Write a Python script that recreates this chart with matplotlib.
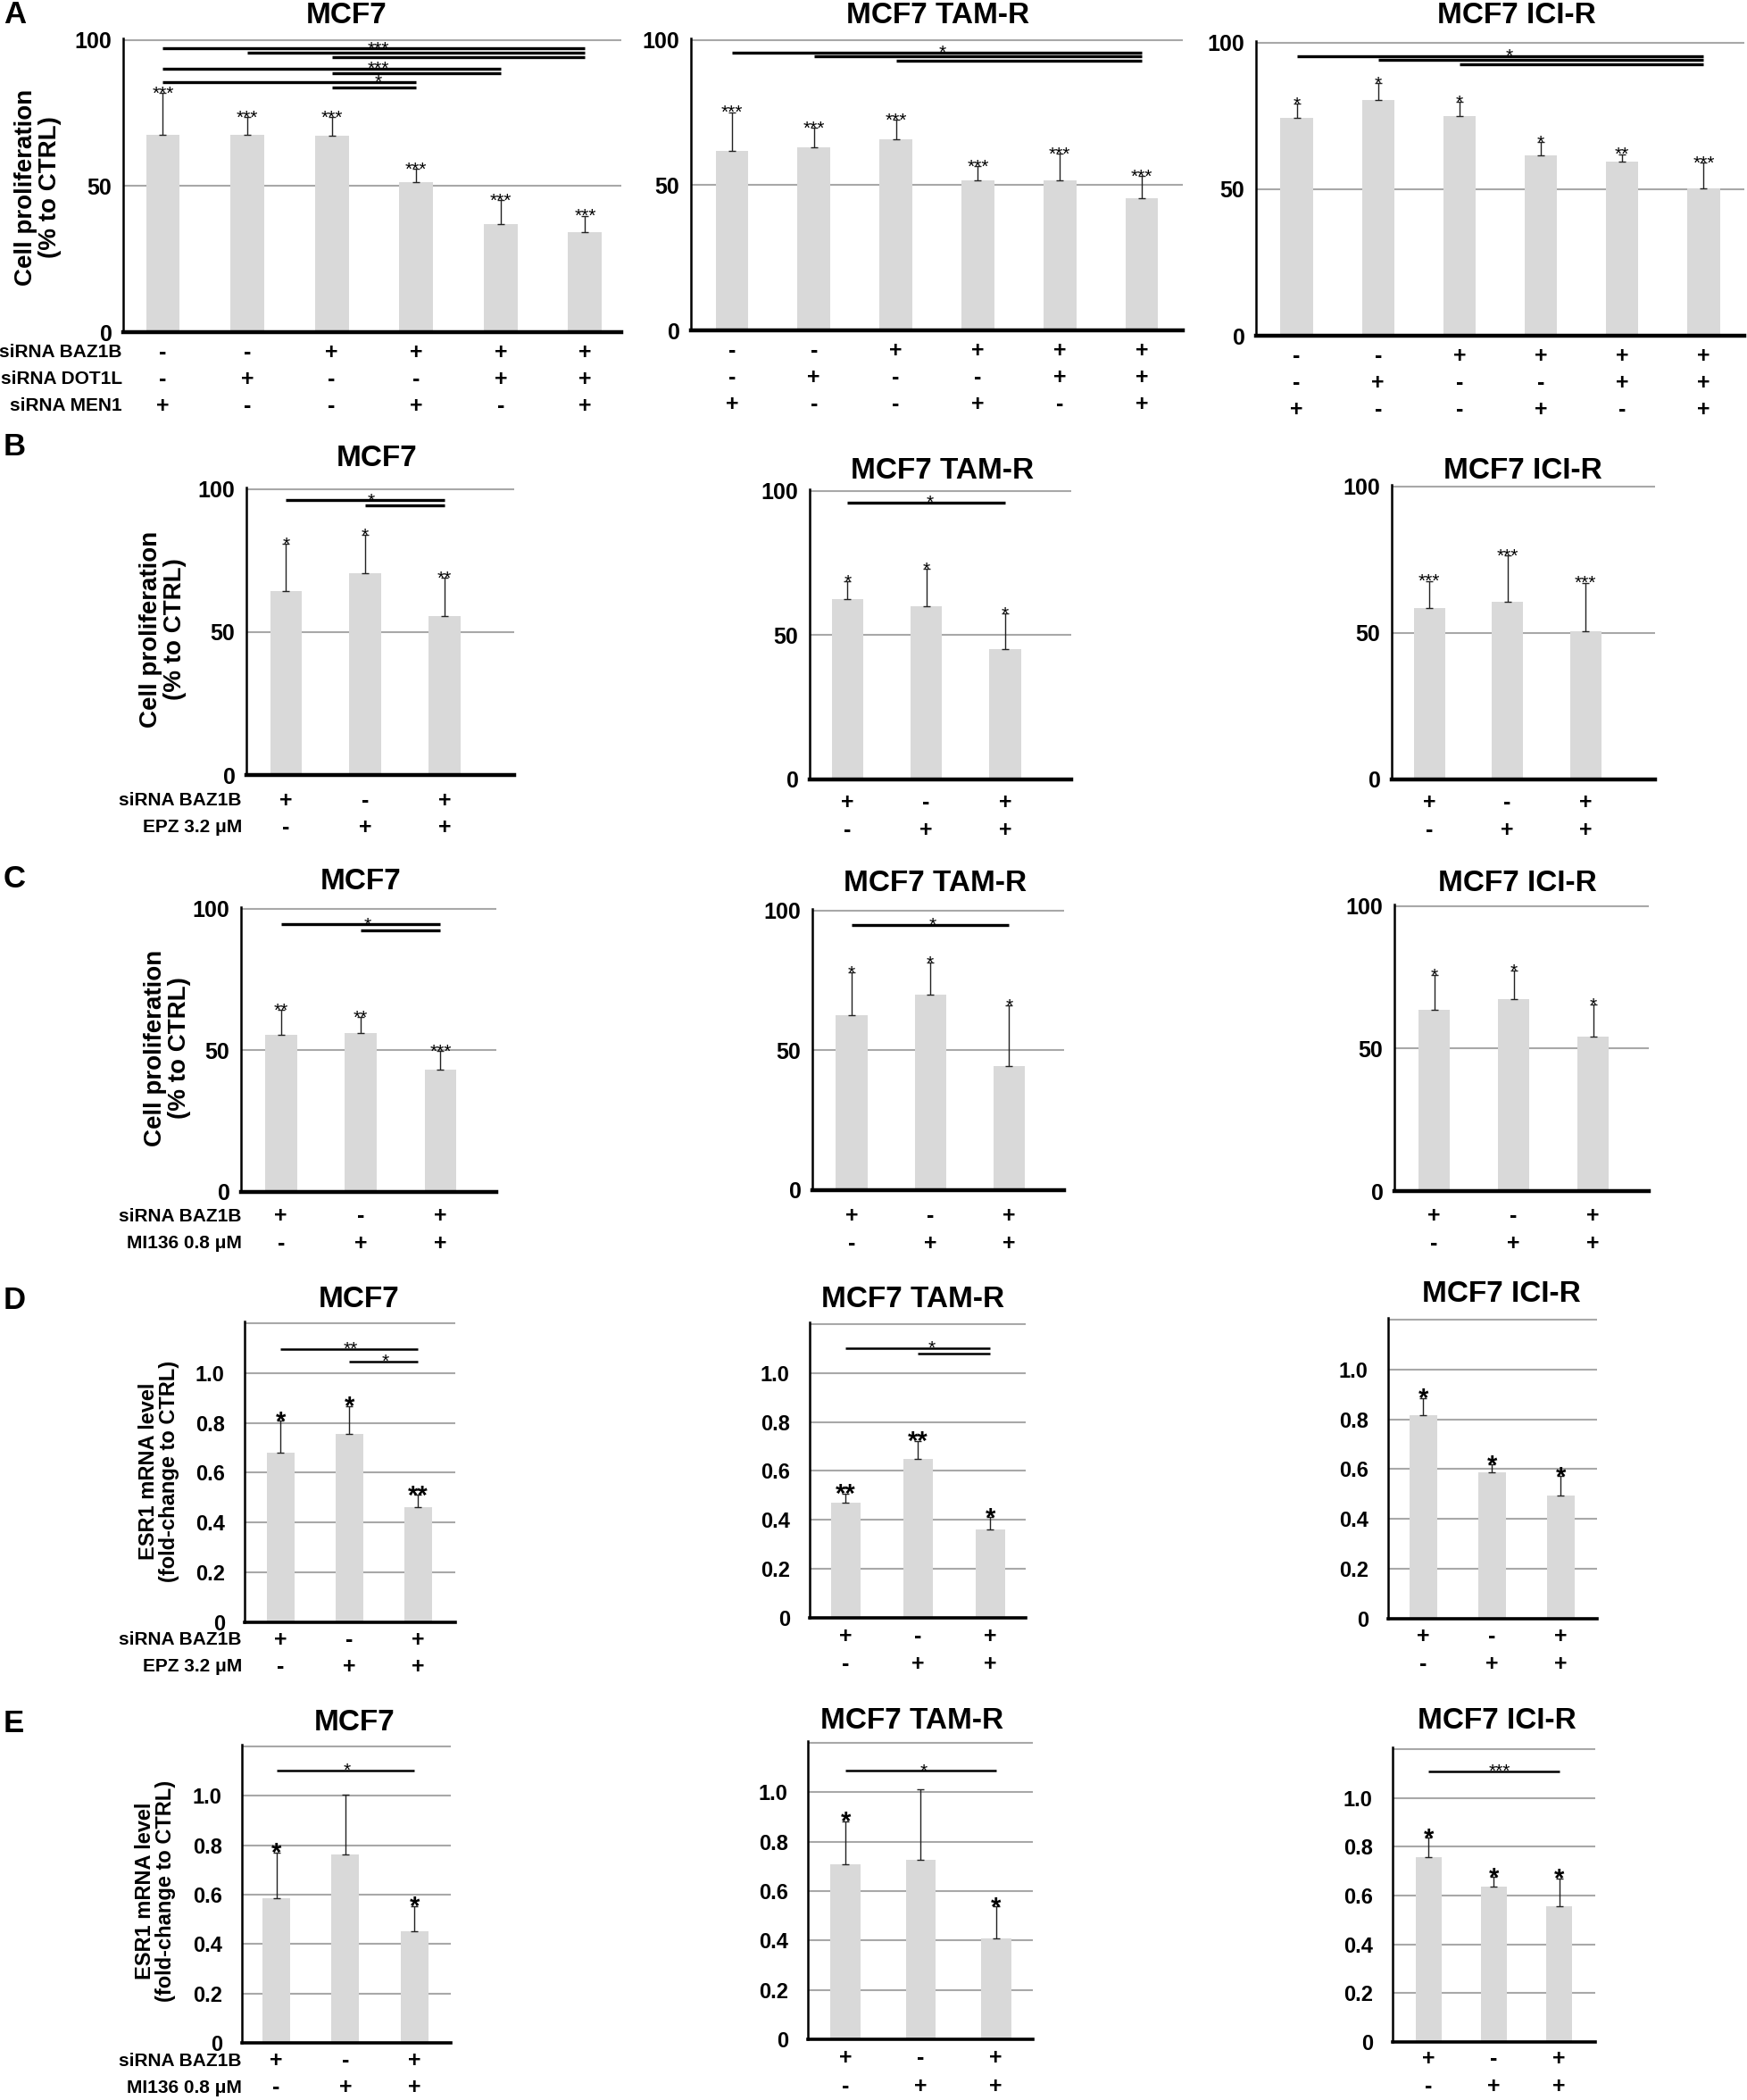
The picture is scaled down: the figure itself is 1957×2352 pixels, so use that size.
#!/usr/bin/env python3
"""
BAZ1B / DOT1L / MEN1 knockdown panels (A-E): proliferation and ESR1 mRNA.
Output: out.png
"""

import numpy as np
import matplotlib
matplotlib.use('Agg')
import matplotlib.pyplot as plt

W, H = 1958, 2352

plt.rcParams['font.family'] = ['Liberation Sans', 'DejaVu Sans']

# === DATA ===
# Panel A: siRNA combos (proliferation, % to CTRL)
a_baz1b = ['-', '-', '+', '+', '+', '+']
a_dot1l = ['-', '+', '-', '-', '+', '+']
a_men1 = ['+', '-', '-', '+', '-', '+']

a_mcf7_mean = [67.5, 67.5, 67.2, 51.5, 37.1, 34.3]
a_mcf7_err = [14.5, 6.1, 6.4, 4.5, 8.1, 5.6]
a_mcf7_star = ['***', '***', '***', '***', '***', '***']
a_mcf7_sig = [(0, 5, 97.2), (1, 5, 95.7), (2, 5, 94.3), (0, 4, 90.2),
              (2, 4, 88.7), (0, 3, 85.6), (2, 3, 83.7)]
a_mcf7_sigtxt = [(2.55, 97.2, '***'), (2.55, 90.2, '***'), (2.55, 85.6, '*')]

a_tam_mean = [61.9, 63.0, 65.7, 51.7, 51.7, 45.5]
a_tam_err = [13.3, 6.8, 7.0, 5.0, 9.2, 7.6]
a_tam_star = ['***', '***', '***', '***', '***', '***']
a_tam_sig = [(0, 5, 95.7), (1, 5, 94.4), (2, 5, 93.0)]
a_tam_sigtxt = [(2.57, 95.7, '*')]

a_ici_mean = [74.4, 80.6, 75.1, 61.5, 59.5, 50.2]
a_ici_err = [4.8, 5.6, 4.7, 4.7, 2.5, 8.9]
a_ici_star = ['*', '*', '*', '*', '**', '***']
a_ici_sig = [(0, 5, 95.5), (1, 5, 94.2), (2, 5, 92.8)]
a_ici_sigtxt = [(2.61, 95.5, '*')]

# Panels B-E: siRNA BAZ1B +/- drug
bz_baz1b = ['+', '-', '+']
bz_drug = ['-', '+', '+']

b_mcf7_mean = [64.3, 70.6, 55.5]
b_mcf7_err = [16.6, 13.5, 13.5]
b_mcf7_star = ['*', '*', '**']
b_mcf7_sig = [(0, 2, 96.2), (1, 2, 94.2)]
b_mcf7_sigtxt = [(1.07, 96.2, '*')]

b_tam_mean = [62.4, 60.0, 45.1]
b_tam_err = [6.2, 13.0, 12.4]
b_tam_star = ['*', '*', '*']
b_tam_sig = [(0, 2, 96.0)]
b_tam_sigtxt = [(1.05, 96.0, '*')]

b_ici_mean = [58.4, 60.8, 50.6]
b_ici_err = [9.4, 15.6, 16.6]
b_ici_star = ['***', '***', '***']

c_mcf7_mean = [55.6, 56.1, 43.2]
c_mcf7_err = [8.7, 5.8, 6.7]
c_mcf7_star = ['**', '**', '***']
c_mcf7_sig = [(0, 2, 94.5), (1, 2, 92.5)]
c_mcf7_sigtxt = [(1.08, 94.5, '*')]

c_tam_mean = [62.6, 69.9, 44.5]
c_tam_err = [15.3, 11.4, 21.6]
c_tam_star = ['*', '*', '*']
c_tam_sig = [(0, 2, 95.0)]
c_tam_sigtxt = [(1.03, 95.0, '*')]

c_ici_mean = [63.7, 67.4, 54.2]
c_ici_err = [12.1, 9.9, 11.4]
c_ici_star = ['*', '*', '*']

d_mcf7_mean = [0.680, 0.754, 0.463]
d_mcf7_err = [0.128, 0.113, 0.048]
d_mcf7_star = ['*', '*', '**']
d_mcf7_sig = [(0, 2, 1.097), (1, 2, 1.047)]
d_mcf7_sigtxt = [(1.02, 1.097, '**'), (1.52, 1.047, '*')]

d_tam_mean = [0.470, 0.648, 0.361]
d_tam_err = [0.038, 0.075, 0.050]
d_tam_star = ['**', '**', '*']
d_tam_sig = [(0, 2, 1.103), (1, 2, 1.079)]
d_tam_sigtxt = [(1.19, 1.103, '*')]

d_ici_mean = [0.818, 0.587, 0.495]
d_ici_err = [0.067, 0.032, 0.077]
d_ici_star = ['*', '*', '*']

e_mcf7_mean = [0.586, 0.764, 0.452]
e_mcf7_err = [0.184, 0.242, 0.102]
e_mcf7_star = ['*', '', '*']
e_mcf7_sig = [(0, 2, 1.103)]
e_mcf7_sigtxt = [(1.03, 1.103, '*')]

e_tam_mean = [0.707, 0.727, 0.410]
e_tam_err = [0.175, 0.284, 0.128]
e_tam_star = ['*', '', '*']
e_tam_sig = [(0, 2, 1.087)]
e_tam_sigtxt = [(1.04, 1.087, '*')]

e_ici_mean = [0.757, 0.637, 0.557]
e_ici_err = [0.080, 0.039, 0.114]
e_ici_star = ['*', '*', '*']
e_ici_sig = [(0, 2, 1.109)]
e_ici_sigtxt = [(1.08, 1.109, '***')]

prolif_ticks = [0, 50, 100]
prolif_labels = ['0', '50', '100']
esr1_ticks = [0, 0.2, 0.4, 0.6, 0.8, 1.0, 1.2]
esr1_labels = ['0', '0.2', '0.4', '0.6', '0.8', '1.0', '']

BAR_COLOR = '#d9d9d9'
GRID_COLOR = '#a8a8a8'

fig = plt.figure(figsize=(W / 100, H / 100), dpi=100)


def px_axes(left, right, top, bottom):
    return fig.add_axes([left / W, 1 - bottom / H, (right - left) / W, (bottom - top) / H])


def draw_panel(box, title, title_xy, mean, err, stars, sig, sigtxt, xlim,
               kind, cond_rows, cond_off):
    ax = px_axes(*box)
    x = np.arange(len(mean))
    ax.bar(x, mean, width=0.4, color=BAR_COLOR, zorder=2)
    ax.errorbar(x, mean, yerr=[np.zeros(len(err)), err], fmt='none',
                ecolor='#222222', elinewidth=1.0, capsize=3, capthick=1.0, zorder=3)

    if kind == 'prolif':
        ax.set_ylim(0, 100.6)
        ax.set_yticks(prolif_ticks)
        ax.set_yticklabels(prolif_labels, fontweight='bold', fontsize=18)
        ax.tick_params(axis='y', length=0, pad=9)
        star_fs, star_w = 15, 'normal'
        sig_lw = 2.4
        bottom_lw = 3.2
    else:
        ax.set_ylim(0, 1.207)
        ax.set_yticks(esr1_ticks)
        ax.set_yticklabels(esr1_labels, fontweight='bold', fontsize=17)
        ax.tick_params(axis='y', length=0, pad=16)
        star_fs, star_w = 21, 'bold'
        sig_lw = 1.8
        bottom_lw = 2.6

    ax.yaxis.grid(True, color=GRID_COLOR, lw=1.5)
    ax.set_axisbelow(True)
    ax.set_xticks([])
    ax.set_xlim(*xlim)
    for s in ['top', 'right']:
        ax.spines[s].set_visible(False)
    ax.spines['left'].set_linewidth(1.8)
    ax.spines['bottom'].set_linewidth(bottom_lw)
    ax.spines['bottom'].set_zorder(4)

    # stars over each bar
    for xi, m, e, st in zip(x, mean, err, stars):
        if st:
            ax.annotate(st, xy=(xi, m + e), xytext=(0, -0.32 * star_fs),
                        textcoords='offset points', ha='center', va='baseline',
                        fontsize=star_fs, fontweight=star_w, zorder=5)

    # comparison lines
    for i0, i1, yv in sig:
        ax.plot([i0, i1], [yv, yv], color='black', lw=sig_lw,
                solid_capstyle='butt', zorder=5, clip_on=False)
    for xv, yv, st in sigtxt:
        ax.annotate(st, xy=(xv, yv), xytext=(0, -0.30 * 15),
                    textcoords='offset points', ha='center', va='baseline',
                    fontsize=15, zorder=6)

    # +/- condition rows
    for row, off in zip(cond_rows, cond_off):
        for xi, sym in zip(x, row):
            ax.annotate(sym, xy=(xi, 0), xytext=(0, -off * 0.72),
                        textcoords='offset points', ha='center', va='center',
                        fontsize=18, fontweight='bold', annotation_clip=False)

    fig.text(title_xy[0] / W, 1 - title_xy[1] / H, title, ha='center', va='center',
             fontsize=24, fontweight='bold')
    return ax


# === ROW A ===
a_rows = [a_baz1b, a_dot1l, a_men1]
a_off = [23, 53, 83]
draw_panel((138, 696, 43, 372), 'MCF7', (388, 17), a_mcf7_mean, a_mcf7_err,
           a_mcf7_star, a_mcf7_sig, a_mcf7_sigtxt, (-0.47, 5.43), 'prolif', a_rows, a_off)
draw_panel((774, 1325, 43, 370), 'MCF7 TAM-R', (1051, 17), a_tam_mean, a_tam_err,
           a_tam_star, a_tam_sig, a_tam_sigtxt, (-0.5, 5.5), 'prolif', a_rows, a_off)
draw_panel((1407, 1954, 46, 376), 'MCF7 ICI-R', (1699, 17), a_ici_mean, a_ici_err,
           a_ici_star, a_ici_sig, a_ici_sigtxt, (-0.5, 5.5), 'prolif', a_rows, a_off)

# === ROW B ===
bz_rows = [bz_baz1b, bz_drug]
draw_panel((276, 576, 546, 868), 'MCF7', (422, 513), b_mcf7_mean, b_mcf7_err,
           b_mcf7_star, b_mcf7_sig, b_mcf7_sigtxt, (-0.5, 2.88), 'prolif', bz_rows, [29, 59])
draw_panel((907, 1200, 548, 873), 'MCF7 TAM-R', (1056, 527), b_tam_mean, b_tam_err,
           b_tam_star, b_tam_sig, b_tam_sigtxt, (-0.48, 2.84), 'prolif', bz_rows, [26, 57])
draw_panel((1559, 1854, 543, 873), 'MCF7 ICI-R', (1706, 527), b_ici_mean, b_ici_err,
           b_ici_star, [], [], (-0.48, 2.89), 'prolif', bz_rows, [26, 57])

# === ROW C ===
draw_panel((270, 556, 1016, 1335), 'MCF7', (404, 987), c_mcf7_mean, c_mcf7_err,
           c_mcf7_star, c_mcf7_sig, c_mcf7_sigtxt, (-0.5, 2.7), 'prolif', bz_rows, [27, 58])
draw_panel((910, 1192, 1018, 1333), 'MCF7 TAM-R', (1048, 990), c_tam_mean, c_tam_err,
           c_tam_star, c_tam_sig, c_tam_sigtxt, (-0.5, 2.7), 'prolif', bz_rows, [29, 60])
draw_panel((1562, 1847, 1013, 1334), 'MCF7 ICI-R', (1700, 990), c_ici_mean, c_ici_err,
           c_ici_star, [], [], (-0.5, 2.7), 'prolif', bz_rows, [28, 59])

# === ROW D ===
draw_panel((274, 510, 1480, 1817), 'MCF7', (402, 1455), d_mcf7_mean, d_mcf7_err,
           d_mcf7_star, d_mcf7_sig, d_mcf7_sigtxt, (-0.52, 2.54), 'esr1', bz_rows, [20, 50])
draw_panel((907, 1149, 1481, 1812), 'MCF7 TAM-R', (1023, 1455), d_tam_mean, d_tam_err,
           d_tam_star, d_tam_sig, d_tam_sigtxt, (-0.5, 2.49), 'esr1', bz_rows, [21, 52])
draw_panel((1555, 1789, 1476, 1813), 'MCF7 ICI-R', (1682, 1450), d_ici_mean, d_ici_err,
           d_ici_star, [], [], (-0.51, 2.53), 'esr1', bz_rows, [20, 51])

# === ROW E ===
draw_panel((271, 505, 1954, 2288), 'MCF7', (397, 1930), e_mcf7_mean, e_mcf7_err,
           e_mcf7_star, e_mcf7_sig, e_mcf7_sigtxt, (-0.5, 2.53), 'esr1', bz_rows, [20, 50])
draw_panel((905, 1157, 1950, 2284), 'MCF7 TAM-R', (1022, 1928), e_tam_mean, e_tam_err,
           e_tam_star, e_tam_sig, e_tam_sigtxt, (-0.5, 2.49), 'esr1', bz_rows, [21, 53])
draw_panel((1560, 1787, 1957, 2287), 'MCF7 ICI-R', (1677, 1928), e_ici_mean, e_ici_err,
           e_ici_star, e_ici_sig, e_ici_sigtxt, (-0.55, 2.55), 'esr1', bz_rows, [19, 50])

# === Row labels, y labels, panel letters ===
def label(x, y, s, **kw):
    fig.text(x / W, 1 - y / H, s, **kw)

row_kw = dict(ha='right', va='center', fontsize=15, fontweight='bold')
label(137, 395, 'siRNA BAZ1B', **row_kw)
label(137, 425, 'siRNA DOT1L', **row_kw)
label(137, 455, 'siRNA MEN1', **row_kw)
for y0, drug in [(897, 'EPZ 3.2 \u03bcM'), (1362, 'MI136 0.8 \u03bcM'),
                 (1837, 'EPZ 3.2 \u03bcM'), (2308, 'MI136 0.8 \u03bcM')]:
    label(271, y0, 'siRNA BAZ1B', **row_kw)
    label(271, y0 + 30, drug, **row_kw)

ylab_kw = dict(ha='center', va='center', rotation=90, fontweight='bold', linespacing=1.05)
label(43, 210, 'Cell proliferation\n(% to CTRL)', fontsize=20, **ylab_kw)
label(183, 705, 'Cell proliferation\n(% to CTRL)', fontsize=20, **ylab_kw)
label(188, 1174, 'Cell proliferation\n(% to CTRL)', fontsize=20, **ylab_kw)
label(178, 1648, 'ESR1 mRNA level\n(fold-change to CTRL)', fontsize=17, **ylab_kw)
label(174, 2118, 'ESR1 mRNA level\n(fold-change to CTRL)', fontsize=17, **ylab_kw)

letter_kw = dict(ha='left', va='center', fontsize=25, fontweight='bold')
for y0, s in [(17, 'A'), (500, 'B'), (985, 'C'), (1457, 'D'), (1930, 'E')]:
    label(4, y0, s, **letter_kw)

fig.savefig('out.png', dpi=100)
